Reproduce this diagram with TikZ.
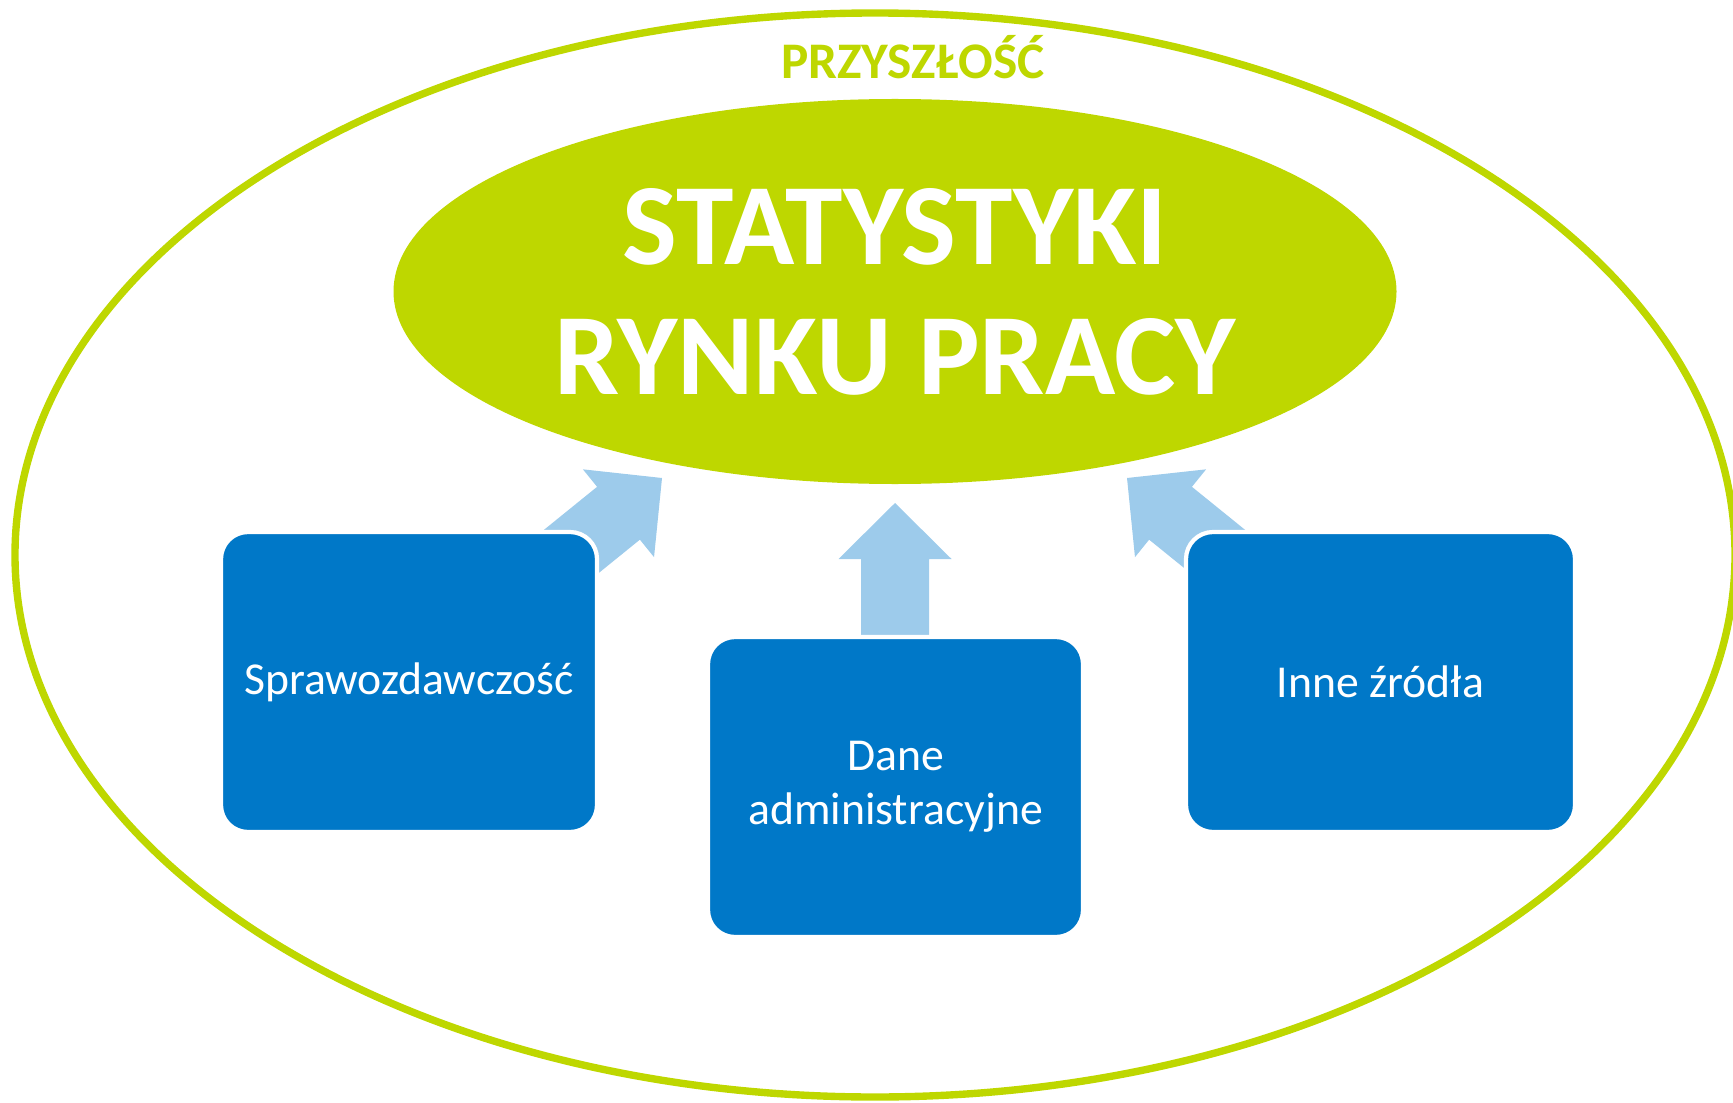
\documentclass[tikz,border=0pt]{standalone}
\usepackage{fontspec}
\setmainfont{Carlito}
\usetikzlibrary{shapes.geometric}
\definecolor{lime}{RGB}{190,215,0}
\definecolor{sea}{RGB}{0,120,200}
\definecolor{sky}{RGB}{157,203,235}
\tikzset{
  source/.style={fill=sea,draw=white,line width=1.2pt,rounded corners=2.7mm,
    minimum width=#1,minimum height=30mm,align=center,text=white,
    font=\fontsize{13}{15.5}\selectfont},
  source/.default=37.6mm,
  % block arrow, tip at the origin
  pics/uparrow/.style={code={
    \fill[#1] (0,0) -- (0.565,-0.56) -- (0.34,-0.56) -- (0.34,-1.32) -- (-0.34,-1.32)
      -- (-0.34,-0.56) -- (-0.565,-0.56) -- cycle;
  }},
  pics/uparrow/.default=sky,
}

\begin{document}
\begin{tikzpicture}
  \useasboundingbox (0,0) rectangle (17.33,11.02);
  \draw[lime,line width=2.1pt] (8.75,5.47) ellipse [x radius=8.6,y radius=5.42];
  \node[text=lime,font=\fontsize{14.6}{16}\selectfont\bfseries] (future) at (9.13,10.45) {PRZYSZŁOŚĆ};
  \node[ellipse,fill=lime,inner sep=0pt,minimum width=100.3mm,minimum height=38.5mm,
    text=white,align=center,font=\fontsize{33}{37}\selectfont\bfseries] (stat) at (8.95,8.105)
    {STATYSTYKI\\RYNKU PRACY};

  \pic[rotate=-51] at (6.62,6.24) {uparrow};
  \pic at (8.95,5.99) {uparrow};
  \pic[rotate=51] at (11.27,6.24) {uparrow};

  \node[source] (report) at (4.09,4.20) {Sprawozdawczość};
  \node[source=37.5mm] (admin) at (8.955,3.15) {Dane\\administracyjne};
  \node[source=38.9mm] (other) at (13.805,4.20) {Inne źródła};
\end{tikzpicture}
\end{document}
